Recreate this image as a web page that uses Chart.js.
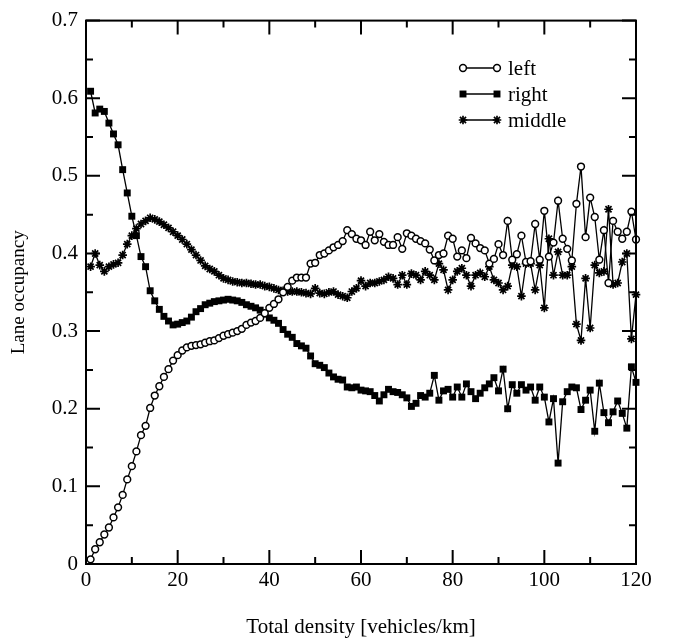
<!DOCTYPE html>
<html>
<head>
<meta charset="utf-8">
<script src="https://cdn.jsdelivr.net/npm/chart.js@4"></script>
<style>
  html, body { margin: 0; padding: 0; background: #fff; }
  #wrap { width: 673px; height: 643px; }
</style>
</head>
<body>
<div id="wrap"><canvas id="laneChart" width="673" height="643"></canvas></div>
<script>
var density = [
  1, 2, 3, 4, 5, 6, 7, 8, 9, 10, 11, 12, 13, 14, 15, 16, 17, 18, 19, 20,
  21, 22, 23, 24, 25, 26, 27, 28, 29, 30, 31, 32, 33, 34, 35, 36, 37, 38, 39, 40,
  41, 42, 43, 44, 45, 46, 47, 48, 49, 50, 51, 52, 53, 54, 55, 56, 57, 58, 59, 60,
  61, 62, 63, 64, 65, 66, 67, 68, 69, 70, 71, 72, 73, 74, 75, 76, 77, 78, 79, 80,
  81, 82, 83, 84, 85, 86, 87, 88, 89, 90, 91, 92, 93, 94, 95, 96, 97, 98, 99, 100,
  101, 102, 103, 104, 105, 106, 107, 108, 109, 110, 111, 112, 113, 114, 115, 116, 117, 118, 119, 120
];

var leftLane = [
  0.006, 0.019, 0.028, 0.038, 0.047, 0.060, 0.073, 0.089, 0.109, 0.126,
  0.145, 0.166, 0.178, 0.201, 0.217, 0.229, 0.241, 0.251, 0.262, 0.269,
  0.275, 0.279, 0.281, 0.282, 0.283, 0.285, 0.287, 0.288, 0.291, 0.294,
  0.296, 0.298, 0.300, 0.303, 0.308, 0.311, 0.313, 0.317, 0.323, 0.330,
  0.335, 0.341, 0.350, 0.357, 0.365, 0.369, 0.369, 0.369, 0.387, 0.388,
  0.398, 0.400, 0.404, 0.408, 0.411, 0.416, 0.430, 0.425, 0.419, 0.417,
  0.411, 0.428, 0.417, 0.425, 0.415, 0.411, 0.411, 0.421, 0.406, 0.426,
  0.423, 0.419, 0.416, 0.413, 0.405, 0.391, 0.398, 0.400, 0.423, 0.419,
  0.396, 0.404, 0.394, 0.420, 0.413, 0.407, 0.404, 0.387, 0.393, 0.412,
  0.398, 0.442, 0.392, 0.399, 0.423, 0.389, 0.390, 0.438, 0.392, 0.455,
  0.396, 0.414, 0.468, 0.419, 0.406, 0.391, 0.464, 0.512, 0.421, 0.472,
  0.447, 0.392, 0.430, 0.362, 0.442, 0.428, 0.419, 0.428, 0.454, 0.418
];

var rightLane = [
  0.609, 0.581, 0.586, 0.583, 0.568, 0.554, 0.540, 0.508, 0.478, 0.448,
  0.423, 0.396, 0.383, 0.352, 0.339, 0.328, 0.319, 0.313, 0.308, 0.309,
  0.311, 0.313, 0.318, 0.325, 0.329, 0.334, 0.336, 0.338, 0.339, 0.340,
  0.341, 0.340, 0.339, 0.337, 0.334, 0.332, 0.330, 0.327, 0.322, 0.317,
  0.314, 0.310, 0.302, 0.296, 0.292, 0.284, 0.281, 0.278, 0.268, 0.258,
  0.256, 0.253, 0.246, 0.241, 0.238, 0.237, 0.228, 0.227, 0.228, 0.224,
  0.223, 0.222, 0.217, 0.210, 0.218, 0.225, 0.222, 0.221, 0.218, 0.214,
  0.203, 0.207, 0.217, 0.215, 0.220, 0.243, 0.211, 0.223, 0.225, 0.215,
  0.228, 0.215, 0.232, 0.222, 0.213, 0.220, 0.227, 0.232, 0.240, 0.223,
  0.251, 0.200, 0.231, 0.220, 0.231, 0.224, 0.228, 0.211, 0.228, 0.215,
  0.183, 0.213, 0.130, 0.209, 0.222, 0.228, 0.227, 0.199, 0.211, 0.224,
  0.171, 0.233, 0.195, 0.182, 0.196, 0.210, 0.194, 0.175, 0.254, 0.234
];

var middleLane = [
  0.383, 0.400, 0.385, 0.377, 0.383, 0.386, 0.388, 0.398, 0.412, 0.423,
  0.432, 0.438, 0.442, 0.446, 0.444, 0.441, 0.437, 0.433, 0.428, 0.423,
  0.418, 0.412, 0.405, 0.398, 0.391, 0.384, 0.380, 0.377, 0.372, 0.368,
  0.366, 0.364, 0.363, 0.362, 0.362, 0.361, 0.360, 0.360, 0.358, 0.357,
  0.355, 0.353, 0.352, 0.351, 0.351, 0.351, 0.350, 0.349, 0.348, 0.355,
  0.349, 0.348, 0.350, 0.351, 0.347, 0.345, 0.343, 0.351, 0.355, 0.365,
  0.358, 0.362, 0.362, 0.364, 0.366, 0.370, 0.368, 0.360, 0.372, 0.360,
  0.374, 0.372, 0.366, 0.377, 0.372, 0.366, 0.387, 0.379, 0.353, 0.366,
  0.377, 0.381, 0.372, 0.358, 0.372, 0.375, 0.370, 0.383, 0.366, 0.362,
  0.353, 0.358, 0.385, 0.383, 0.345, 0.387, 0.387, 0.353, 0.385, 0.330,
  0.419, 0.372, 0.402, 0.372, 0.372, 0.383, 0.309, 0.288, 0.368, 0.304,
  0.385, 0.375, 0.377, 0.457, 0.360, 0.362, 0.389, 0.400, 0.290, 0.347
];

var xTicks = [0, 20, 40, 60, 80, 100, 120];
var xMinorTicks = [10, 30, 50, 70, 90, 110];
var yTicks = [0, 0.1, 0.2, 0.3, 0.4, 0.5, 0.6, 0.7];
var yMinorTicks = [0.05, 0.15, 0.25, 0.35, 0.45, 0.55, 0.65];
var seriesNames = ["left", "right", "middle"];

var FONT = "'Liberation Serif', 'DejaVu Serif', serif";

function points(ys) {
    return ys.map(function (y, i) { return { x: density[i], y: y }; });
}

var styles = [
    { pointStyle: "circle", radius: 3.4, bg: "#fff", bw: 1.5 },
    { pointStyle: "rect", radius: 4.9, bg: "#000", bw: 0 },
    { pointStyle: "star", radius: 4.3, bg: "#000", bw: 1.7 }
];

// inward ticks on all four sides + frame
var frameTicks = {
    id: "frameTicks",
    afterDraw: function (chart) {
        var ctx = chart.ctx, a = chart.chartArea;
        var xs = chart.scales.x, ys = chart.scales.y;
        ctx.save();
        ctx.strokeStyle = "#000";
        ctx.lineWidth = 2;
        ctx.strokeRect(a.left, a.top, a.right - a.left, a.bottom - a.top);
        function xt(v, len) {
            var p = xs.getPixelForValue(v);
            ctx.beginPath();
            ctx.moveTo(p, a.bottom); ctx.lineTo(p, a.bottom - len);
            ctx.moveTo(p, a.top); ctx.lineTo(p, a.top + len);
            ctx.stroke();
        }
        function yt(v, len) {
            var p = ys.getPixelForValue(v);
            ctx.beginPath();
            ctx.moveTo(a.left, p); ctx.lineTo(a.left + len, p);
            ctx.moveTo(a.right, p); ctx.lineTo(a.right - len, p);
            ctx.stroke();
        }
        xTicks.forEach(function (v) { xt(v, 14); });
        xMinorTicks.forEach(function (v) { xt(v, 7); });
        yTicks.forEach(function (v) { yt(v, 14); });
        yMinorTicks.forEach(function (v) { yt(v, 7); });
        ctx.restore();
    }
};

// legend inside the plot, marker - line - marker then name
var insideLegend = {
    id: "insideLegend",
    afterDraw: function (chart) {
        var ctx = chart.ctx;
        var x1 = 463, x2 = 497, tx = 508;
        var rows = [68, 94, 120];
        ctx.save();
        seriesNames.forEach(function (name, i) {
            var y = rows[i], st = styles[i];
            ctx.strokeStyle = "#000";
            ctx.lineWidth = 1.4;
            ctx.beginPath();
            ctx.moveTo(x1, y); ctx.lineTo(x2, y);
            ctx.stroke();
            [x1, x2].forEach(function (px) {
                ctx.fillStyle = st.bg;
                ctx.strokeStyle = "#000";
                ctx.lineWidth = st.bw || 1;
                Chart.helpers.drawPoint(ctx, {
                    pointStyle: st.pointStyle, radius: st.radius, rotation: 0, borderWidth: st.bw
                }, px, y);
            });
            ctx.fillStyle = "#000";
            ctx.font = "21px " + FONT;
            ctx.textBaseline = "middle";
            ctx.fillText(name, tx, y + 1);
        });
        ctx.restore();
    }
};

document.addEventListener("DOMContentLoaded", function () {
    var ctx = document.getElementById("laneChart");
    var all = [leftLane, rightLane, middleLane];
    new Chart(ctx, {
        type: "line",
        data: {
            datasets: all.map(function (ys, i) {
                return {
                    label: seriesNames[i],
                    data: points(ys),
                    borderColor: "#000",
                    borderWidth: 1.3,
                    backgroundColor: styles[i].bg,
                    pointStyle: styles[i].pointStyle,
                    pointRadius: styles[i].radius,
                    pointBorderWidth: styles[i].bw,
                    pointBorderColor: "#000",
                    pointBackgroundColor: styles[i].bg,
                    tension: 0,
                    fill: false,
                    clip: false
                };
            })
        },
        options: {
            responsive: false,
            animation: false,
            events: [],
            layout: { padding: { left: 0, right: 37, top: 15, bottom: 0 } },
            scales: {
                x: {
                    type: "linear",
                    min: 0,
                    max: 120,
                    afterBuildTicks: function (s) { s.ticks = xTicks.map(function (v) { return { value: v }; }); },
                    afterFit: function (s) { s.height = 79; },
                    grid: { display: false, drawTicks: false },
                    border: { display: false },
                    ticks: { color: "#000", padding: 4, font: { family: FONT, size: 21 }, maxRotation: 0 },
                    title: {
                        display: true,
                        text: "Total density [vehicles/km]",
                        color: "#000",
                        font: { family: FONT, size: 21 },
                        padding: { top: 0, bottom: 3 }
                    }
                },
                y: {
                    type: "linear",
                    min: 0,
                    max: 0.7,
                    afterBuildTicks: function (s) { s.ticks = yTicks.map(function (v) { return { value: v }; }); },
                    afterFit: function (s) { s.width = 86; },
                    grid: { display: false, drawTicks: false },
                    border: { display: false },
                    ticks: {
                        color: "#000",
                        padding: 8,
                        font: { family: FONT, size: 21 },
                        callback: function (v) { return String(Math.round(v * 10) / 10); }
                    },
                    title: {
                        display: true,
                        text: "Lane occupancy",
                        color: "#000",
                        font: { family: FONT, size: 19 },
                        padding: { top: 8, bottom: 0 }
                    }
                }
            },
            plugins: {
                legend: { display: false },
                tooltip: { enabled: false }
            }
        },
        plugins: [frameTicks, insideLegend]
    });
});
</script>
</body>
</html>
